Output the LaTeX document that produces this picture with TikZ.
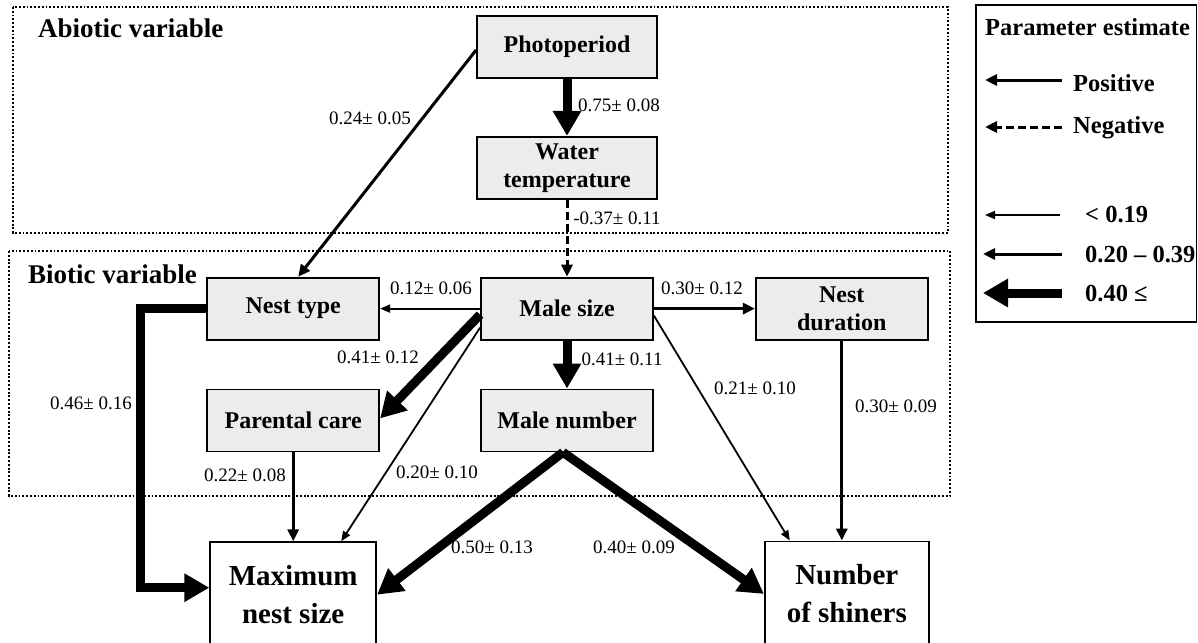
\documentclass[tikz,border=0pt]{standalone}
\usepackage{fontspec}
\setmainfont{Liberation Serif}
\usetikzlibrary{arrows.meta,positioning}

\begin{document}
\begin{tikzpicture}[
  x=1pt, y=-1pt,
  node distance=48pt,
  varbox/.style={draw, line width=1.8pt, fill=gray!15, minimum width=172pt, minimum height=62pt, inner sep=2pt, align=center, font=\fontsize{24}{28}\selectfont\bfseries},
  outbox/.style={draw, line width=1.8pt, fill=white, minimum width=166pt, minimum height=105pt, inner sep=2pt, align=center, font=\fontsize{29}{38}\selectfont\bfseries},
  group/.style={line width=1.9pt, dash pattern=on 1.9pt off 1.9pt},
  grouplabel/.style={anchor=west, inner sep=0pt, font=\fontsize{27}{30}\selectfont\bfseries},
  est/.style={inner sep=0pt, font=\fontsize{19}{21}\selectfont},
  legtext/.style={anchor=west, inner sep=0pt, font=\fontsize{24.5}{26}\selectfont\bfseries},
  weakflow/.style={-{Triangle[length=10pt,width=8pt]}, line width=1.8pt},
  midflow/.style={-{Triangle[length=12pt,width=11pt]}, line width=3pt},
  strongflow/.style={-{Triangle[length=25pt,width=27pt]}, line width=9pt},
  negflow/.style={midflow, dash pattern=on 8pt off 4pt}
]
\useasboundingbox (0,0) rectangle (1198,642);

% abiotic / biotic frames
\draw[group] (13,7) rectangle (948,233);
\draw[group] (9,251) rectangle (950,496);
\node[grouplabel] (abiotic) at (38,28) {Abiotic variable};
\node[grouplabel] (biotic) at (28,274) {Biotic variable};

% variables
\node[varbox, minimum width=180pt] (photo) at (567,47) {Photoperiod};
\node[varbox, minimum width=180pt, below=57pt of photo] (water) {Water\\temperature};
\node[varbox, below=77pt of water] (malesize) {Male size};
\node[varbox, left=100pt of malesize] (nesttype) {Nest type};
\node[varbox, right=101pt of malesize] (nestdur) {Nest\\duration};
\node[varbox, below=of malesize] (malenum) {Male number};
\node[varbox, below=of nesttype] (parcare) {Parental care};
\node[outbox, below=89pt of parcare] (maxnest) {Maximum\\nest size};
\node[outbox, minimum width=164pt, below=200pt of nestdur, xshift=5pt] (shiners) {Number\\of shiners};

% paths
\draw[strongflow] (photo) -- (water);
\draw[midflow] ([yshift=-3pt]photo.west) -- ([xshift=5pt]nesttype.north);
\draw[negflow] (water) -- (malesize);
\draw[weakflow] (malesize) -- (nesttype);
\draw[midflow] (malesize) -- (nestdur);
\draw[strongflow] (malesize) -- (malenum);
\draw[strongflow] ([yshift=-6pt]malesize.west) -- ([yshift=2pt]parcare.east);
\draw[weakflow] ([yshift=-19pt]malesize.west) -- ([xshift=48pt]maxnest.north);
\draw[weakflow] ([yshift=-7pt]malesize.east) -- ([xshift=-57pt]shiners.north);
\draw[midflow] (nestdur) -- (nestdur |- shiners.north);
\draw[midflow] (parcare) -- (maxnest);
\draw[strongflow] ([xshift=-4pt]malenum.south) -- (maxnest.east);
\draw[strongflow] ([xshift=-4pt]malenum.south) -- (shiners.west);
\draw[strongflow] (nesttype.west) -- ++(-66,0) |- ([yshift=7pt]maxnest.west);

% estimates
\node[est] (e075) at (619,105) {0.75± 0.08};
\node[est] (e024) at (370,118) {0.24± 0.05};
\node[est] (e037) at (617,218) {-0.37± 0.11};
\node[est] (e012) at (431,288) {0.12± 0.06};
\node[est] (e030a) at (702,288) {0.30± 0.12};
\node[est] (e041a) at (378,357) {0.41± 0.12};
\node[est] (e041b) at (622,359) {0.41± 0.11};
\node[est] (e021) at (755,388) {0.21± 0.10};
\node[est] (e030b) at (896,406) {0.30± 0.09};
\node[est] (e046) at (91,403) {0.46± 0.16};
\node[est] (e022) at (245,475) {0.22± 0.08};
\node[est] (e020) at (437,472) {0.20± 0.10};
\node[est] (e050) at (492,547) {0.50± 0.13};
\node[est] (e040) at (634,547) {0.40± 0.09};

% legend
\draw[line width=1.5pt] (976,5) rectangle (1196.5,322);
\node[legtext] (legtitle) at (985,27) {Parameter estimate};
\node[legtext] (lpos) at (1073,83) {Positive};
\node[legtext] (lneg) at (1073,128) {Negative};
\node[legtext] (lweak) at (1085,215) {< 0.19};
\node[legtext] (lmid) at (1085,255) {0.20 – 0.39};
\node[legtext] (lstrong) at (1085,294) {0.40 ≤};
\coordinate (posA) at (1062,80);  \coordinate (posB) at (985,80);
\coordinate (negA) at (1062,127); \coordinate (negB) at (985,127);
\coordinate (wkA) at (1060,215);  \coordinate (wkB) at (985,215);
\coordinate (mdA) at (1062,254);  \coordinate (mdB) at (983,254);
\coordinate (stA) at (1062,293);  \coordinate (stB) at (983,293);
\draw[midflow] (posA) -- (posB);
\draw[negflow] (negA) -- (negB);
\draw[weakflow] (wkA) -- (wkB);
\draw[midflow] (mdA) -- (mdB);
\draw[strongflow] (stA) -- (stB);
\end{tikzpicture}
\end{document}
